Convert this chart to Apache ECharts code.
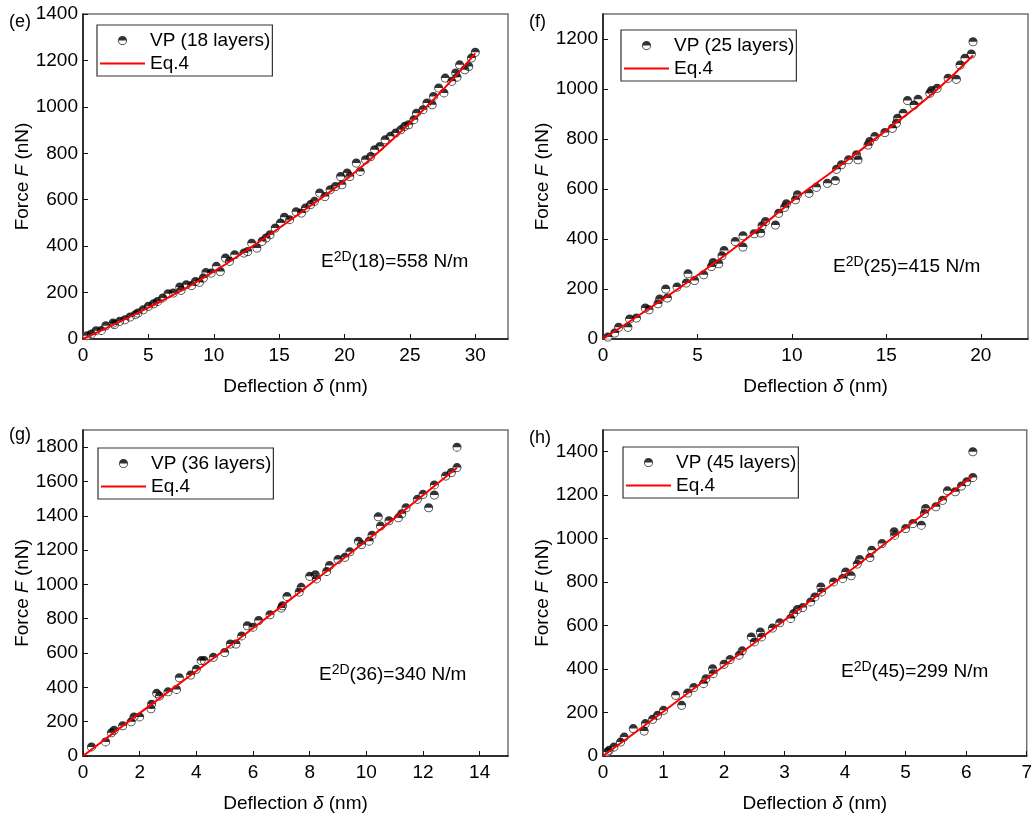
<!DOCTYPE html>
<html><head><meta charset="utf-8">
<script src="https://cdn.jsdelivr.net/npm/echarts@6/dist/echarts.min.js"></script>
<style>html,body{margin:0;padding:0;background:#fff}#c{width:1035px;height:816px}</style>
</head><body><div id="c"></div>
<script>
// ---- data ----
const eVP = [[0.3,14],[0.64,22],[1.0,36],[1.4,37],[1.74,57],[2.3,69],[2.4,62],[2.8,76],[3.2,83],[3.6,95],[4.0,105],[4.2,112],[4.6,126],[5.0,141],[5.4,152],[5.7,162],[6.1,177],[6.5,195],[6.9,198],[7.4,224],[7.5,210],[7.9,234],[8.3,230],[8.6,248],[8.9,244],[9.2,263],[9.4,287],[9.8,284],[10.2,313],[10.5,291],[10.9,349],[11.2,335],[11.6,363],[12.3,370],[12.6,377],[12.9,413],[13.3,392],[13.7,421],[14.0,435],[14.3,449],[14.7,478],[15.1,500],[15.4,525],[15.8,514],[16.3,548],[16.7,543],[17.0,564],[17.4,579],[17.7,593],[18.1,629],[18.5,614],[18.9,643],[19.3,657],[19.7,700],[19.8,664],[20.2,715],[20.4,700],[20.9,758],[21.2,722],[21.6,772],[22.0,786],[22.3,815],[22.7,829],[23.1,858],[23.5,873],[23.9,887],[24.3,901],[24.6,916],[24.9,923],[25.3,945],[25.5,973],[26.0,988],[26.3,1017],[26.7,1009],[26.8,1045],[27.2,1081],[27.6,1060],[27.7,1124],[28.2,1110],[28.5,1146],[28.6,1128],[28.8,1181],[29.2,1160],[29.5,1174],[29.7,1210],[30.0,1235]];
const eFit = [[0,0],[2.5,66],[5,135],[7.5,208],[10,290],[12.5,382],[15,478],[17.5,578],[20,682],[22.5,800],[25,930],[27.5,1072],[30,1230]];

const fVP = [[0.26,8],[0.62,24],[0.83,47],[1.32,47],[1.41,80],[1.77,84],[2.24,124],[2.44,117],[2.91,141],[3.0,160],[3.32,200],[3.41,164],[3.92,208],[4.41,224],[4.5,261],[4.85,234],[5.33,257],[5.74,290],[5.83,306],[6.13,301],[6.3,333],[6.41,354],[7.0,390],[7.41,413],[7.41,368],[8.0,421],[8.35,424],[8.42,453],[8.6,470],[9.13,456],[9.3,503],[9.62,527],[9.71,541],[10.19,557],[10.29,577],[10.91,583],[11.3,607],[11.88,623],[12.3,634],[12.36,679],[12.62,697],[13.0,717],[13.42,737],[13.5,717],[14.03,776],[14.12,790],[14.39,810],[14.92,826],[15.32,843],[15.53,863],[15.59,883],[15.89,903],[16.12,954],[16.47,936],[16.68,959],[17.3,983],[17.39,994],[17.69,1003],[18.27,1043],[18.71,1039],[18.9,1096],[19.16,1123],[19.5,1140],[19.59,1189]];
const fFit = [[0,0],[2.5,125],[5,255],[7.5,395],[10,550],[12.5,690],[15,835],[17.5,985],[19.6,1135]];

const gVP = [[0.3,53],[0.8,82],[1.0,135],[1.1,150],[1.4,176],[1.7,199],[1.8,228],[2.0,228],[2.4,275],[2.42,302],[2.6,365],[2.7,349],[3.0,374],[3.3,388],[3.4,456],[3.8,472],[4.0,505],[4.17,556],[4.28,556],[4.6,575],[5.0,603],[5.2,653],[5.4,653],[5.6,700],[5.8,759],[6.0,751],[6.2,790],[6.6,823],[7.0,862],[7.04,876],[7.2,930],[7.63,956],[7.7,983],[8.0,1047],[8.2,1057],[8.24,1032],[8.6,1076],[8.7,1110],[9.0,1145],[9.24,1158],[9.42,1190],[9.72,1252],[9.83,1232],[10.1,1252],[10.2,1287],[10.42,1394],[10.5,1340],[10.8,1371],[11.13,1388],[11.25,1412],[11.4,1447],[11.8,1496],[12.0,1525],[12.2,1447],[12.4,1580],[12.4,1521],[12.8,1632],[13.0,1652],[13.2,1681],[13.2,1800]];
const gFit = [[0,0],[2,250],[4,495],[6,745],[8,1000],[10,1255],[12,1520],[13.2,1680]];

const hVP = [[0.07,18],[0.1,26],[0.18,41],[0.29,64],[0.35,87],[0.5,126],[0.68,115],[0.7,149],[0.82,169],[0.9,187],[1.0,210],[1.2,279],[1.3,233],[1.4,290],[1.5,315],[1.66,333],[1.7,356],[1.81,402],[1.82,379],[2.0,422],[2.1,444],[2.25,464],[2.3,484],[2.45,548],[2.5,525],[2.6,571],[2.62,548],[2.8,589],[2.92,613],[3.1,633],[3.15,656],[3.21,674],[3.3,683],[3.43,709],[3.5,732],[3.6,778],[3.61,755],[3.81,801],[3.96,817],[4.01,847],[4.1,829],[4.2,883],[4.24,904],[4.41,913],[4.44,947],[4.61,978],[4.81,1032],[4.82,1016],[5.0,1047],[5.12,1070],[5.26,1062],[5.31,1116],[5.33,1139],[5.5,1147],[5.61,1177],[5.69,1220],[5.82,1216],[5.92,1242],[6.01,1262],[6.11,1282],[6.11,1400]];
const hFit = [[0,0],[1,205],[2,415],[3,625],[4,835],[5,1050],[6.1,1285]];

const panelTags = ['(e)','(f)','(g)','(h)'];
const layerNames = ['VP (18 layers)','VP (25 layers)','VP (36 layers)','VP (45 layers)'];
const modTexts = [['18','558'],['25','415'],['36','340'],['45','299']];
const xMax = [32.5, 22.5, 15, 7];
const xStep = [5, 5, 2, 1];
const yMax = [1400, 1300, 1900, 1500];
const yStep = [200, 200, 200, 200];
const fitName = 'Eq.4';

// ---- layout / style ----
const FONT = 'Liberation Sans, Arial, Helvetica, sans-serif';
const grids = [
  {left:83, top:14, width:425, height:325},
  {left:603, top:14, width:425, height:325},
  {left:83, top:430, width:425, height:326},
  {left:603, top:430, width:425, height:326}
];
const legendPos = [{left:97,top:25},{left:621,top:30},{left:98,top:448},{left:623,top:447}];
const annPos = [[321,262],[833,267],[319,675],[841,672]];
const tagPos = [[9,22],[529,22],[9,435],[529,438]];
const halfSym = 'path://M0,10A10,10,0,0,1,20,10Z M0,10A10,10,0,0,0,20,10L18.2,10A8.2,8.2,0,0,1,1.8,10Z';

const vpData = [eVP, fVP, gVP, hVP];
const fitData = [eFit, fFit, gFit, hFit];

const option = {
  animation:false,
  backgroundColor:'#fff',
  textStyle:{fontFamily:FONT},
  grid: grids.map(g => Object.assign({show:true, borderColor:'#707070', borderWidth:1.5, backgroundColor:'transparent'}, g)),
  xAxis: grids.map((g,i) => ({
    gridIndex:i, type:'value', min:0, max:xMax[i], interval:xStep[i],
    name:'Deflection {i|δ} (nm)', nameLocation:'middle', nameGap:38,
    nameTextStyle:{fontSize:19, color:'#000', fontFamily:FONT, rich:{i:{fontSize:19, fontStyle:'italic', fontFamily:FONT, color:'#000'}}},
    axisLine:{lineStyle:{color:'#111', width:1.5}},
    axisTick:{inside:true, length:5, lineStyle:{color:'#111', width:1}},
    axisLabel:{fontSize:19, color:'#000', margin:7, showMaxLabel: xMax[i] % xStep[i] === 0, fontFamily:FONT, formatter: v => String(v)},
    splitLine:{show:false}
  })),
  yAxis: grids.map((g,i) => ({
    gridIndex:i, type:'value', min:0, max:yMax[i], interval:yStep[i],
    name:'Force {i|F} (nN)', nameLocation:'middle', nameGap:46, nameRotate:90,
    nameTextStyle:{fontSize:19, color:'#000', fontFamily:FONT, rich:{i:{fontSize:19, fontStyle:'italic', fontFamily:FONT, color:'#000'}}},
    axisLine:{lineStyle:{color:'#111', width:1.5}},
    axisTick:{inside:true, length:5, lineStyle:{color:'#111', width:1}},
    axisLabel:{fontSize:19, color:'#000', margin:5, showMaxLabel: yMax[i] % yStep[i] === 0, fontFamily:FONT, formatter: v => String(v)},
    splitLine:{show:false}
  })),
  legend: grids.map((g,i) => ({
    left:legendPos[i].left, top:legendPos[i].top, orient:'vertical',
    data:[{name:layerNames[i], icon:halfSym}, {name:fitName, itemStyle:{opacity:0, color:'rgba(0,0,0,0)', borderWidth:0}}],
    itemWidth:45, itemHeight:9, itemGap:4,
    padding:[6,2,3,2], borderColor:'#333', borderWidth:1.2,
    backgroundColor:'#fff',
    textStyle:{fontSize:19, color:'#000', fontFamily:FONT},
    selectedMode:false
  })),
  series: [],
  graphic: []
};

for (let i = 0; i < 4; i++) {
  option.series.push({
    name:'bg'+i, type:'scatter', xAxisIndex:i, yAxisIndex:i, data:vpData[i],
    symbol:'circle', symbolSize:9, itemStyle:{color:'#fff'}, z:2, silent:true
  });
  option.series.push({
    name:layerNames[i], type:'scatter', xAxisIndex:i, yAxisIndex:i, data:vpData[i],
    symbol:halfSym, symbolSize:9, itemStyle:{color:'#000'}, z:3
  });
  option.series.push({
    name:fitName, type:'line', xAxisIndex:i, yAxisIndex:i, data:fitData[i],
    smooth:0.5, symbol:'none', showSymbol:false,
    lineStyle:{color:'#ff0000', width:2}, itemStyle:{color:'#ff0000'}, z:5
  });
  option.graphic.push({
    type:'text', x:annPos[i][0], y:annPos[i][1], z:10,
    style:{
      text:'{m|E}{sup|2D}{m|(' + modTexts[i][0] + ')=' + modTexts[i][1] + ' N/m}',
      font:'19px ' + FONT, fill:'#000', verticalAlign:'middle', align:'left',
      rich:{
        m:{fontSize:19, fontFamily:FONT, fill:'#000', lineHeight:24, verticalAlign:'middle'},
        sup:{fontSize:14, fontFamily:FONT, fill:'#000', verticalAlign:'top', lineHeight:14}
      }
    }
  });
  option.graphic.push({
    type:'text', x:tagPos[i][0], y:tagPos[i][1], z:10,
    style:{text:panelTags[i], font:'18px ' + FONT, fill:'#000', verticalAlign:'middle', align:'left'}
  });
}

const chart = echarts.init(document.getElementById('c'), null, {renderer:'canvas'});
chart.setOption(option);
</script>
</body></html>
